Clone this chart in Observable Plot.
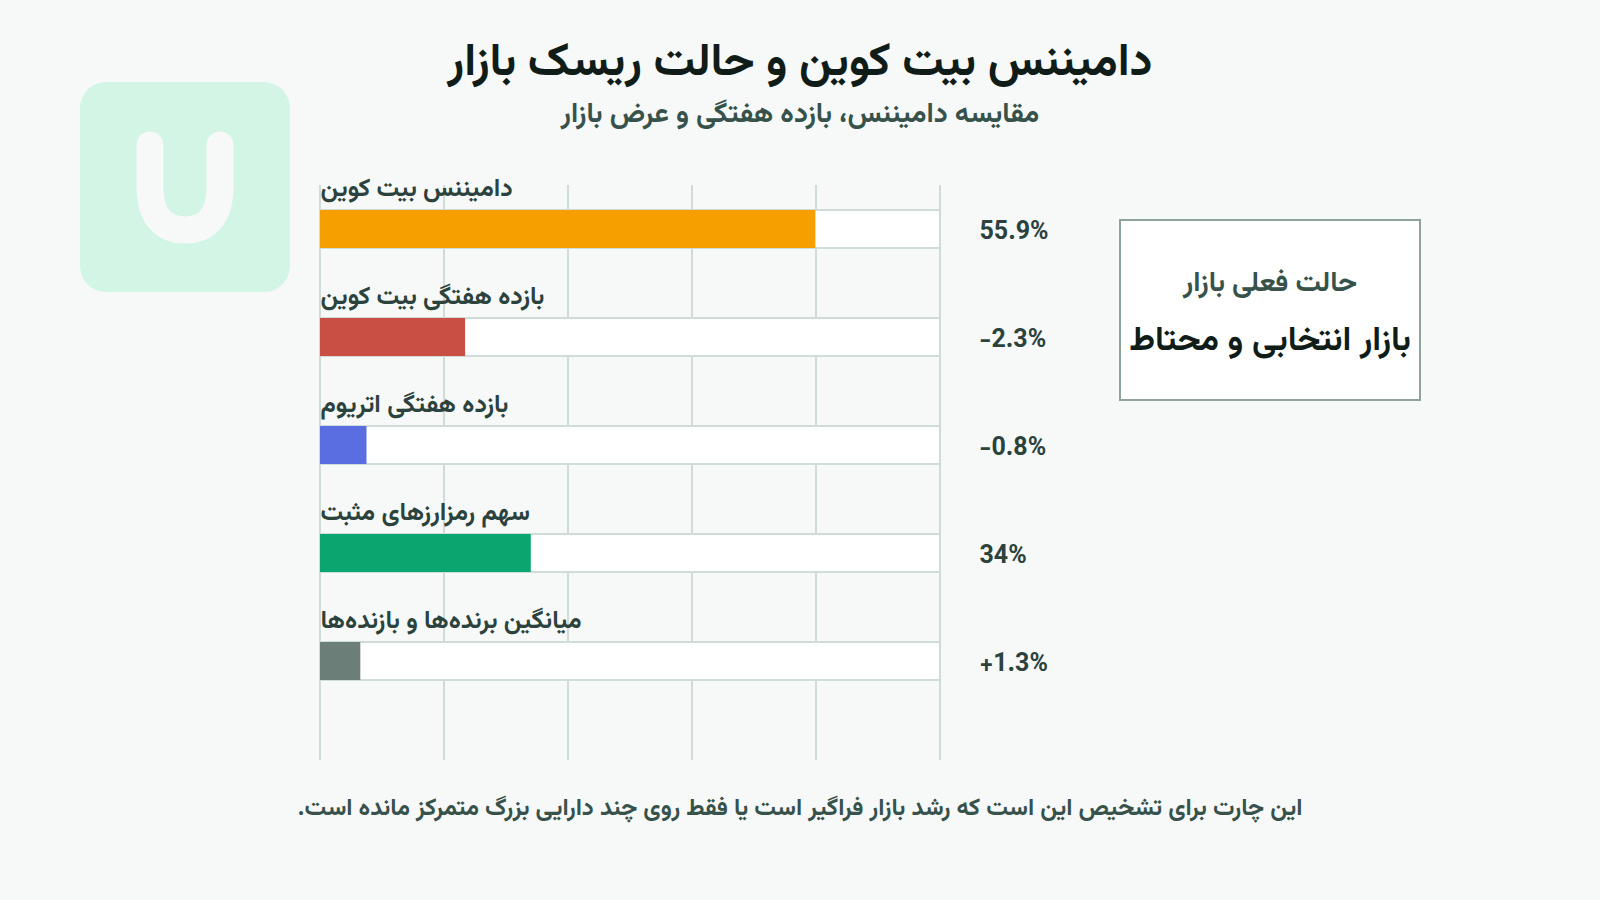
<!DOCTYPE html>
<html lang="fa">
<head>
<meta charset="utf-8">
<script src="https://cdn.jsdelivr.net/npm/d3@7"></script>
<script src="https://cdn.jsdelivr.net/npm/@observablehq/plot@0.6"></script>
<style>
  html, body { margin: 0; padding: 0; background: #f6f9f8; }
  body { width: 1600px; height: 900px; position: relative; overflow: hidden; font-family: Vazirmatn, "Noto Sans Arabic", Roboto, sans-serif; }
  .line { position: absolute; left: 0; width: 1600px; text-align: center; direction: rtl; margin: 0; }
  #title { top: 39px; font-size: 46px; font-weight: 700; color: #101c18; line-height: 50px; }
  #subtitle { top: 98px; font-size: 28px; font-weight: 700; color: #37514b; line-height: 34px; }
  #footer { top: 791px; font-size: 24px; font-weight: 700; color: #37514b; line-height: 36px; }
  #chart { position: absolute; left: 0; top: 165px; }
  #logo { position: absolute; left: 80px; top: 82px; }
  #status { position: absolute; left: 1119px; top: 219px; width: 298px; height: 178px; background: #fff; border: 2px solid #8fa39d; text-align: center; direction: rtl; }
  #status .a { position: absolute; left: 0; right: 0; top: 43px; font-size: 28px; font-weight: 700; color: #37514b; line-height: 40px; }
  #status .b { position: absolute; left: 0; right: 0; top: 99px; font-size: 34px; font-weight: 700; color: #101c18; line-height: 44px; }
</style>
</head>
<body>
<h1 class="line" id="title"></h1>
<p class="line" id="subtitle"></p>
<svg id="logo" width="210" height="210" viewBox="0 0 210 210">
  <rect width="210" height="210" rx="26" fill="#d3f5e6"/>
  <path d="M70 63 V105 C70 136 85 148 105 148 C125 148 140 136 140 105 V63" fill="none" stroke="#f6f9f8" stroke-width="27" stroke-linecap="round"/>
</svg>
<div id="chart"></div>
<div id="status"><div class="a"></div><div class="b"></div></div>
<p class="line" id="footer"></p>
<script>
const titleText = "دامیننس بیت کوین و حالت ریسک بازار";
const subtitleText = "مقایسه دامیننس، بازده هفتگی و عرض بازار";
const footerText = "این چارت برای تشخیص این است که رشد بازار فراگیر است یا فقط روی چند دارایی بزرگ متمرکز مانده است.";
const statusLabel = "حالت فعلی بازار";
const statusValue = "بازار انتخابی و محتاط";

const categories = ["دامیننس بیت کوین", "بازده هفتگی بیت کوین", "بازده هفتگی اتریوم", "سهم رمزارزهای مثبت", "میانگین برنده‌ها و بازنده‌ها"];
const barLengths = [79.9, 23.4, 7.5, 34, 6.5];
const valueLabels = ["55.9%", "−2.3%", "−0.8%", "34%", "+1.3%"];
const barColors = ["#f59f00", "#c94f45", "#5b6ee1", "#0ba56f", "#6b7f78"];
const gridTicks = [0, 20, 40, 60, 80, 100];

document.getElementById("title").textContent = titleText;
document.getElementById("subtitle").textContent = subtitleText;
document.getElementById("footer").textContent = footerText;
document.querySelector("#status .a").textContent = statusLabel;
document.querySelector("#status .b").textContent = statusValue;

const rows = categories.map((name, i) => ({name, length: barLengths[i], label: valueLabels[i], color: barColors[i]}));
const fontFamily = 'Vazirmatn, "Noto Sans Arabic", Roboto, sans-serif';

const chart = Plot.plot({
  width: 1600,
  height: 615,
  marginLeft: 320,
  marginRight: 660,
  marginTop: 20,
  marginBottom: 20,
  style: {background: "transparent", fontFamily},
  x: {domain: [0, 100], axis: null},
  y: {domain: categories, range: [10, 550], paddingInner: 0.648, paddingOuter: 0.324, align: 0.5, axis: null},
  color: {type: "identity"},
  marks: [
    Plot.ruleX(gridTicks, {stroke: "#d0dcd8", strokeWidth: 2, dx: -0.5}),
    Plot.barX(rows, {x1: 0, x2: 100, y: "name", fill: "#ffffff", stroke: "#d0dcd8", strokeWidth: 2}),
    Plot.barX(rows, {x1: 0, x2: "length", y: "name", fill: "color"}),
    Plot.text(rows, {x: 0, y: "name", text: "name", textAnchor: "start", dy: -42, fontSize: 25, fontWeight: 700, fill: "#2b423d"}),
    Plot.text(rows, {x: 100, y: "name", text: "label", textAnchor: "start", dx: 39, dy: 1, fontSize: 25, fontWeight: 700, fill: "#2b423d"})
  ]
});
document.getElementById("chart").appendChild(chart);
</script>
</body>
</html>
